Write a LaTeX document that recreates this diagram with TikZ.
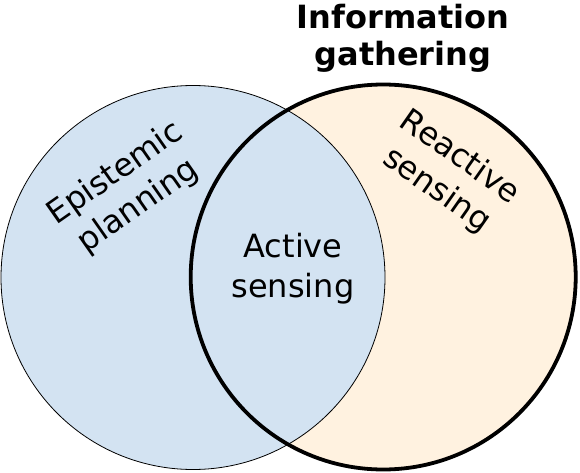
\documentclass[tikz,border=0pt]{standalone}
\usepackage{fontspec}
\setmainfont{DejaVu Sans}
\definecolor{leftblue}{RGB}{211,227,242}
\definecolor{rightorange}{RGB}{255,242,224}
\begin{document}
\begin{tikzpicture}[x=1pt,y=-1pt,
  lbl/.style={font=\fontsize{32}{40}\selectfont, align=center, inner sep=0pt},
  ttl/.style={font=\fontsize{32}{37}\selectfont\bfseries, align=center, inner sep=0pt}]
\useasboundingbox (0,0) rectangle (580,473);
\coordinate (L) at (193,277.5);
\coordinate (R) at (383.2,277);
\fill[rightorange] (R) circle[radius=192.5];
\filldraw[fill=leftblue, draw=black, line width=0.8pt] (L) circle[radius=192];
\draw[line width=3.8pt] (R) circle[radius=192.5];
\node[lbl] (active) at (293,268.5) {Active\\sensing};
\node[lbl, rotate=35] (epi) at (127,190) {Epistemic\\planning};
\node[lbl, rotate=-35] (rea) at (448,174) {Reactive\\sensing};
\node[ttl] (title) at (403,38) {Information\\gathering};
\end{tikzpicture}
\end{document}
